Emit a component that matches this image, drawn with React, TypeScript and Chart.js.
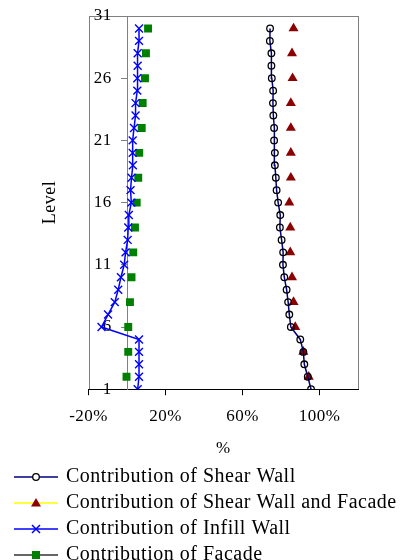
import React, { useEffect, useRef } from 'react';
import { Chart, registerables } from 'chart.js';

Chart.register(...registerables);

// ---- data (levels 1..30, values in %) ----
const LEVELS = [1, 2, 3, 4, 5, 6, 7, 8, 9, 10, 11, 12, 13, 14, 15, 16, 17, 18, 19, 20, 21, 22, 23, 24, 25, 26, 27, 28, 29, 30];
const SHEAR_WALL = [95.6, 93.9, 92.1, 91.6, 90.0, 85.1, 84.3, 83.7, 82.9, 81.7, 81.0, 81.1, 80.3, 79.4, 79.6, 78.5, 77.7, 77.3, 76.8, 76.8, 76.4, 76.4, 76.0, 75.8, 75.9, 75.2, 75.0, 75.0, 74.2, 74.3];
const SHEAR_WALL_FACADE = [null, 94.4, null, 91.6, null, 87.4, null, 86.5, null, 85.7, null, 84.8, null, 84.8, null, 84.3, null, 85.1, null, 85.1, null, 85.1, null, 85.1, null, 86.0, null, 85.7, null, 86.5];
const INFILL_WALL = [5.5, 6.2, 6.2, 6.2, 6.2, -13.3, -9.9, -6.4, -4.6, -3.2, -1.5, -0.8, 0.3, 0.6, 0.9, 2.2, 1.8, 2.3, 3.0, 2.9, 2.9, 3.6, 4.4, 4.4, 5.3, 5.3, 5.5, 5.5, 6.2, 6.2];
const FACADE = [null, -0.3, null, 0.6, null, 0.6, null, 1.5, null, 2.3, null, 3.2, null, 4.1, null, 5.0, null, 5.8, null, 6.3, null, 7.6, null, 8.1, null, 9.3, null, 9.8, null, 10.9];

const SERIES_NAMES = [
  'Contribution of Shear Wall',
  'Contribution of Shear Wall and Facade',
  'Contribution of Infill Wall',
  'Contribution of Facade',
];
const X_TICKS = [-20, 20, 60, 100];
const Y_TICKS = [1, 6, 11, 16, 21, 26, 31];
const X_TITLE = '%';
const Y_TITLE = 'Level';

const FAMILY = "'Liberation Serif', 'Times New Roman', serif";
const LETTER_SPACING = '0.5px';

function toPoints(values: (number | null)[]) {
  return LEVELS.map((lv, i) => ({ x: values[i], y: lv }));
}

function makeIcon(kind: string, lineColor: string): HTMLCanvasElement {
  const c = document.createElement('canvas');
  c.width = 44;
  c.height = 14;
  const g = c.getContext('2d') as CanvasRenderingContext2D;
  const cx = 22;
  const cy = 7;
  g.strokeStyle = lineColor;
  g.lineWidth = 1.5;
  g.beginPath();
  g.moveTo(0, cy);
  g.lineTo(44, cy);
  g.stroke();
  if (kind === 'circle') {
    g.fillStyle = '#ffffff';
    g.strokeStyle = '#000000';
    g.lineWidth = 1.3;
    g.beginPath();
    g.arc(cx, cy, 3.3, 0, Math.PI * 2);
    g.fill();
    g.stroke();
  } else if (kind === 'triangle') {
    g.fillStyle = '#8b0000';
    g.beginPath();
    g.moveTo(cx, cy - 5);
    g.lineTo(cx + 5, cy + 3.5);
    g.lineTo(cx - 5, cy + 3.5);
    g.closePath();
    g.fill();
  } else if (kind === 'x') {
    g.strokeStyle = '#0000ff';
    g.lineWidth = 1.5;
    g.beginPath();
    g.moveTo(cx - 4, cy - 4);
    g.lineTo(cx + 4, cy + 4);
    g.moveTo(cx + 4, cy - 4);
    g.lineTo(cx - 4, cy + 4);
    g.stroke();
  } else {
    g.fillStyle = '#008000';
    g.fillRect(cx - 4, cy - 4, 8, 8);
  }
  return c;
}

const plotBorder = {
  id: 'plotBorder',
  beforeDraw(chart: any) {
    const { ctx, chartArea } = chart;
    const l = Math.round(chartArea.left) + 0.5;
    const t = Math.round(chartArea.top) + 0.5;
    const r = Math.round(chartArea.right) + 0.5;
    const b = Math.round(chartArea.bottom) + 0.5;
    ctx.save();
    ctx.strokeStyle = '#808080';
    ctx.lineWidth = 1;
    ctx.strokeRect(l, t, r - l, b - t);
    ctx.restore();
  },
};

const textSpacing = {
  id: 'textSpacing',
  beforeUpdate(chart: any) {
    chart.ctx.letterSpacing = LETTER_SPACING;
  },
  beforeLayout(chart: any) {
    chart.ctx.letterSpacing = LETTER_SPACING;
  },
  beforeDraw(chart: any) {
    chart.ctx.letterSpacing = LETTER_SPACING;
  },
};

const tickFont = { family: FAMILY, size: 17 };
const yTicksFromList = (scale: any) => {
  scale.ticks = Y_TICKS.map((v) => ({ value: v }));
};

export default function App() {
  const ref = useRef<HTMLCanvasElement | null>(null);

  useEffect(() => {
    if (!ref.current) return;
    const icons = [
      makeIcon('circle', '#000080'),
      makeIcon('triangle', '#ffff00'),
      makeIcon('x', '#0000ff'),
      makeIcon('square', '#333333'),
    ];
    const chart = new Chart(ref.current, {
      type: 'line',
      data: {
        datasets: [
          {
            label: SERIES_NAMES[0],
            data: toPoints(SHEAR_WALL),
            yAxisID: 'y',
            borderColor: '#000080',
            borderWidth: 1.5,
            pointStyle: 'circle',
            pointRadius: 3.3,
            pointBorderWidth: 1.3,
            pointBorderColor: '#000000',
            pointBackgroundColor: 'rgba(255,255,255,0)',
            tension: 0,
          },
          {
            label: SERIES_NAMES[1],
            data: toPoints(SHEAR_WALL_FACADE),
            yAxisID: 'y',
            borderColor: '#ffff00',
            borderWidth: 1.5,
            spanGaps: false,
            pointStyle: 'triangle',
            pointRadius: 5.8,
            pointBorderWidth: 0,
            pointBackgroundColor: '#8b0000',
            pointBorderColor: '#8b0000',
          },
          {
            label: SERIES_NAMES[2],
            data: toPoints(INFILL_WALL),
            yAxisID: 'y',
            borderColor: '#0000ff',
            borderWidth: 1.5,
            pointStyle: 'crossRot',
            pointRadius: 5.6,
            pointBorderWidth: 1.4,
            pointBorderColor: '#0000ff',
            pointBackgroundColor: '#0000ff',
            tension: 0,
          },
          {
            label: SERIES_NAMES[3],
            data: toPoints(FACADE),
            yAxisID: 'y',
            borderColor: '#333333',
            borderWidth: 1.5,
            spanGaps: false,
            pointStyle: 'rect',
            pointRadius: 5.6,
            pointBorderWidth: 0,
            pointBackgroundColor: '#008000',
            pointBorderColor: '#008000',
          },
        ],
      },
      options: {
        responsive: false,
        animation: false,
        devicePixelRatio: 1,
        layout: { padding: { left: 10, right: 0, top: 16, bottom: -15 } },
        scales: {
          x: {
            type: 'linear',
            position: 'bottom',
            min: -20,
            max: 120,
            afterBuildTicks: (scale: any) => {
              scale.ticks = X_TICKS.map((v) => ({ value: v }));
            },
            ticks: {
              color: '#000000',
              font: tickFont,
              padding: 11,
              callback: (v: any) => `${v}%`,
              maxRotation: 0,
            },
            grid: { drawOnChartArea: false, drawTicks: true, tickLength: 6, color: '#000000' },
            border: { display: true, color: '#000000', width: 1 },
            title: {
              display: true,
              text: X_TITLE,
              color: '#000000',
              font: tickFont,
              padding: { top: 1, bottom: 2 },
            },
          },
          // value axis crossing at x = 0: line and tick marks
          y: {
            type: 'linear',
            position: { x: 0 },
            min: 1,
            max: 31,
            afterBuildTicks: yTicksFromList,
            ticks: { display: false, padding: 0 },
            grid: { drawOnChartArea: false, drawTicks: true, tickLength: 6, color: '#808080' },
            border: { display: true, color: '#808080', width: 1 },
          },
          // tick labels of the level axis, set just left of the tick marks
          yLabels: {
            type: 'linear',
            axis: 'y',
            position: { x: -8 },
            min: 1,
            max: 31,
            afterBuildTicks: yTicksFromList,
            ticks: { color: '#000000', font: tickFont, padding: 0 },
            grid: { display: false },
            border: { display: false },
          },
          // reserves the blank margin right of the plot
          yPad: {
            type: 'linear',
            axis: 'y',
            position: 'right',
            min: 1,
            max: 31,
            ticks: { display: false },
            grid: { display: false },
            border: { display: false },
            afterFit: (scale: any) => {
              scale.width = 45;
            },
          },
        },
        plugins: {
          title: {
            display: true,
            text: Y_TITLE,
            position: 'left',
            fullSize: false,
            color: '#000000',
            font: { family: FAMILY, size: 18, weight: 'normal' },
            padding: { top: 29, bottom: 28 },
          },
          legend: {
            position: 'bottom',
            align: 'start',
            labels: {
              usePointStyle: true,
              pointStyleWidth: 40,
              padding: 6,
              color: '#000000',
              font: { family: FAMILY, size: 20 },
              generateLabels: (ch: any) =>
                ch.data.datasets.map((ds: any, i: number) => ({
                  text: ds.label,
                  pointStyle: icons[i],
                  fillStyle: 'transparent',
                  strokeStyle: 'transparent',
                  lineWidth: 0,
                  hidden: false,
                  datasetIndex: i,
                  fontColor: '#000000',
                })),
            },
          },
          tooltip: { enabled: false },
        },
      },
      plugins: [textSpacing, plotBorder],
    } as any);
    return () => chart.destroy();
  }, []);

  return (
    <div style={{ position: 'fixed', left: 0, top: 0, width: 403, height: 560, background: '#ffffff' }}>
      <canvas ref={ref} width={403} height={560} style={{ display: 'block' }} />
    </div>
  );
}
